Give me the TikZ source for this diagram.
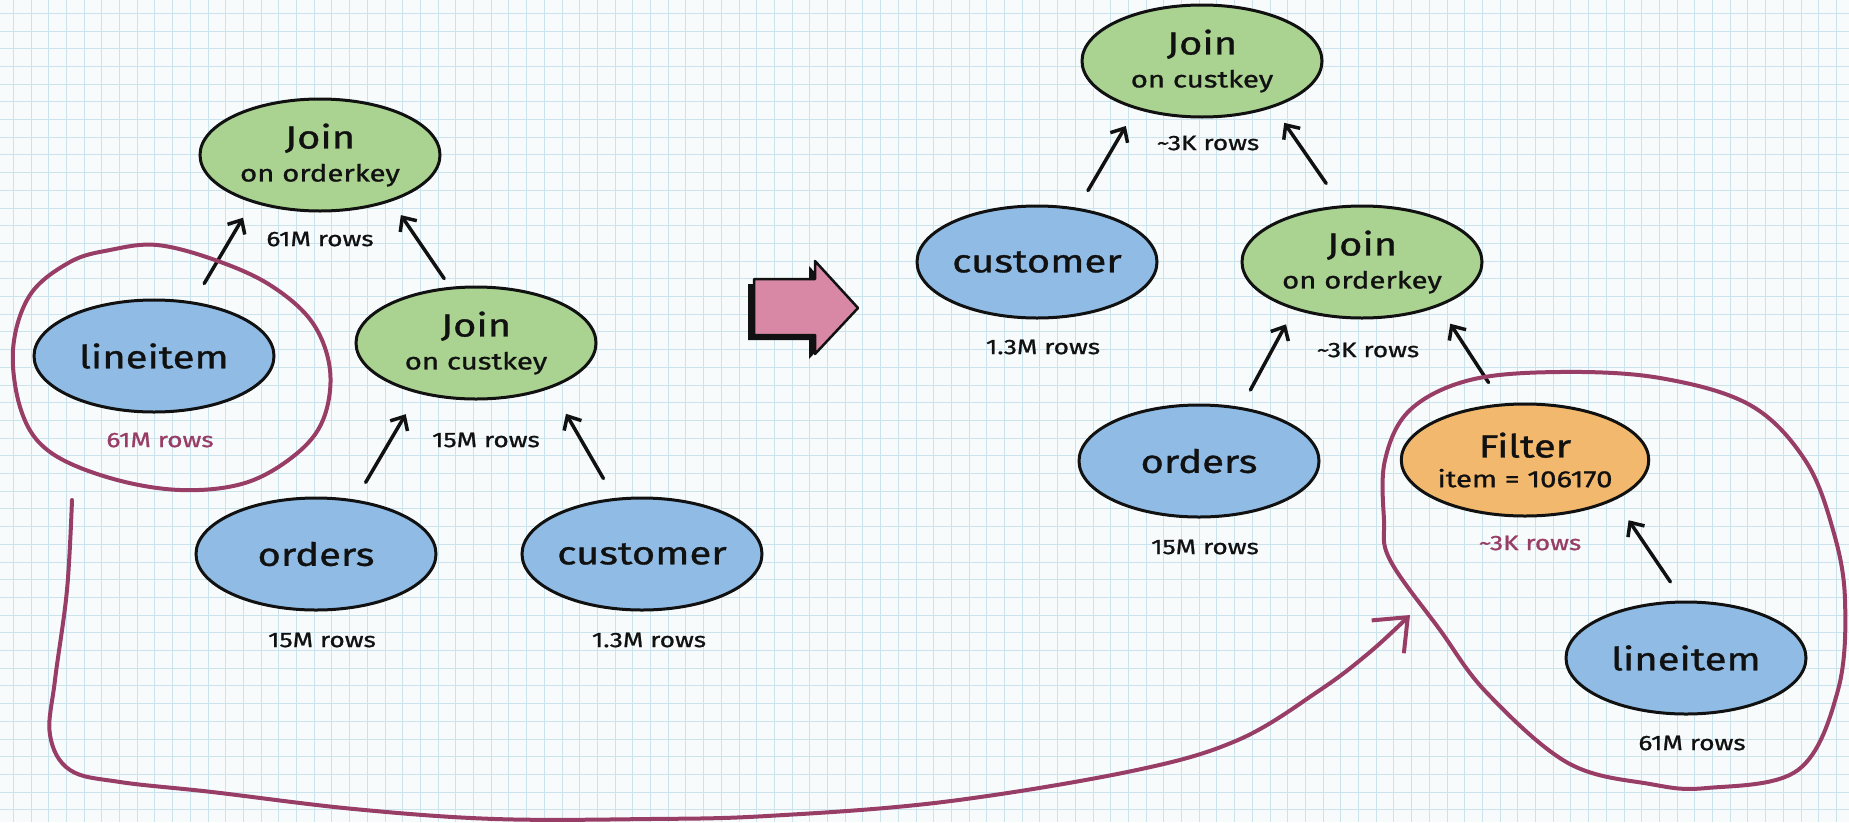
\documentclass[tikz,border=0pt]{standalone}
\usepackage{fontspec}
\setmainfont{Fira Sans}[FakeStretch=1.25, FakeBold=1]
\usetikzlibrary{shapes.geometric,arrows.meta,calc}
\definecolor{gridc}{RGB}{202,227,237}
\definecolor{paper}{RGB}{248,251,252}
\definecolor{blueF}{RGB}{143,187,228}
\definecolor{greenF}{RGB}{170,210,145}
\definecolor{orangeF}{RGB}{242,184,110}
\definecolor{plum}{RGB}{152,62,102}
\definecolor{pinkF}{RGB}{216,136,164}
\definecolor{ink}{RGB}{17,17,17}
\newcommand\optxt[2]{{\fontsize{32}{32}\selectfont #1}\\[10pt]{\fontsize{23.5}{23.5}\selectfont #2}}
\begin{document}
\begin{tikzpicture}[x=1pt,y=-1pt,
  op/.style={ellipse, draw=ink, line width=3pt, minimum width=240pt, minimum height=112pt, inner sep=0pt, align=center, text=ink},
  tbl/.style={op, fill=blueF, font=\fontsize{32}{34}\selectfont},
  joinop/.style={op, fill=greenF},
  filterop/.style={op, fill=orangeF},
  rows/.style={font=\fontsize{21}{24}\selectfont, text=ink, inner sep=0pt},
  hot/.style={rows, text=plum},
  flow/.style={draw=ink, line width=3.5pt, line cap=round, -{Straight Barb[length=11pt,width=20pt]}},
  loopline/.style={draw=plum, line width=4pt, line cap=round, line join=round},
  ]
\useasboundingbox (0,0) rectangle (1849,822);
\fill[paper] (0,0) rectangle (1849,822);
\foreach \i in {0,...,104} \draw[gridc, line width=0.9pt] ({13.3+17.7*\i},0) -- ({13.3+17.7*\i},822);
\foreach \j in {0,...,46} \draw[gridc, line width=0.9pt] (0,{13.3+17.7*\j}) -- (1849,{13.3+17.7*\j});

% left tree
\node[joinop] (j1) at (320,155) {\optxt{Join}{on orderkey}};
\node[tbl] (li1) at (154,356) {lineitem};
\node[joinop] (jc1) at (476,343) {\optxt{Join}{on custkey}};
\node[tbl] (or1) at (316,554) {orders};
\node[tbl] (cu1) at (642,554) {customer};

\node[rows] (j1r) at ($(j1)+(0,84)$) {61M rows};
\node[hot] (li1r) at ($(li1)+(6,84)$) {61M rows};
\node[rows] (jc1r) at ($(jc1)+(10,97)$) {15M rows};
\node[rows] (or1r) at ($(or1)+(6,86)$) {15M rows};
\node[rows] (cu1r) at ($(cu1)+(7,86)$) {1.3M rows};

\draw[flow, shorten <=21pt, shorten >=17.5pt] (li1.54) -- (j1.-145);
\draw[flow, shorten <=10pt, shorten >=16.5pt] (jc1.115) -- (j1.-33);
\draw[flow, shorten <=20pt, shorten >=24pt] (or1.54) -- (jc1.-139);
\draw[flow, shorten <=22.5pt, shorten >=29.6pt] (cu1.116) -- (jc1.-31.5);

% big arrow
\fill[ink] (748,284) -- (809,284) -- (809,266) -- (852,313) -- (809,359) -- (809,340) -- (748,340) -- cycle;
\filldraw[fill=pinkF, draw=ink, line width=2.5pt, line join=round] (754,279) -- (815,279) -- (815,261) -- (858,308) -- (815,354) -- (815,335) -- (754,335) -- cycle;

% right tree
\node[joinop] (jc2) at (1202,61) {\optxt{Join}{on custkey}};
\node[tbl] (cu2) at (1037,262) {customer};
\node[joinop] (jo2) at (1362,262) {\optxt{Join}{on orderkey}};
\node[tbl] (or2) at (1199,461) {orders};
\node[filterop] (fi) at (1525,460) {\optxt{Filter}{item = 106170}};
\node[tbl] (li2) at (1686,658) {lineitem};

\node[rows] (jc2r) at ($(jc2)+(6,82)$) {\textasciitilde 3K rows};
\node[rows] (cu2r) at ($(cu2)+(6,85)$) {1.3M rows};
\node[rows] (jo2r) at ($(jo2)+(6,88)$) {\textasciitilde 3K rows};
\node[rows] (or2r) at ($(or2)+(6,86)$) {15M rows};
\node[hot] (fir) at ($(fi)+(5,83)$) {\textasciitilde 3K rows};
\node[rows] (li2r) at ($(li2)+(6,85)$) {61M rows};

\draw[flow, shorten <=20pt, shorten >=19.5pt] (cu2.53) -- (jc2.-144);
\draw[flow, shorten <=26.7pt, shorten >=18.7pt] (jo2.110.6) -- (jc2.-33.4);
\draw[flow, shorten <=19.4pt, shorten >=16.7pt] (or2.52.8) -- (jo2.-145.2);
\draw[flow, shorten <=25pt, shorten >=20.6pt] (fi.112.2) -- (jo2.-30.5);
\draw[flow, shorten <=22.5pt, shorten >=24.4pt] (li2.93.3) -- (fi.-24.3);

% purple loops and the move arrow
\draw[loopline] plot[smooth cycle, tension=0.6] coordinates {(157,245) (215,260) (270,285) (312,322) (330,370) (323,420) (295,455) (245,483) (180,490) (110,478) (50,452) (22,413) (13,350) (30,295) (70,262) (110,250)};
\draw[loopline] plot[smooth cycle, tension=0.6] coordinates {(1390,560) (1440,630) (1487,693) (1568,763) (1650,784) (1707,788) (1798,770) (1838,690) (1845,600) (1833,530) (1805,460) (1750,405) (1660,378) (1560,372) (1470,380) (1410,410) (1385,460) (1384,520)};
\coordinate (tailstart) at (72,500);
\coordinate (tailend) at (1410,615);
\draw[loopline, -{Straight Barb[length=28pt,width=46pt]}] plot[smooth, tension=0.6] coordinates {(tailstart) (67,590) (55,680) (50,735) (70,770) (120,782) (212,792) (354,809) (495,819) (650,819) (767,816) (943,802) (1132,771) (1238,740) (1320,690) (1370,652) (tailend)};
\end{tikzpicture}
\end{document}
